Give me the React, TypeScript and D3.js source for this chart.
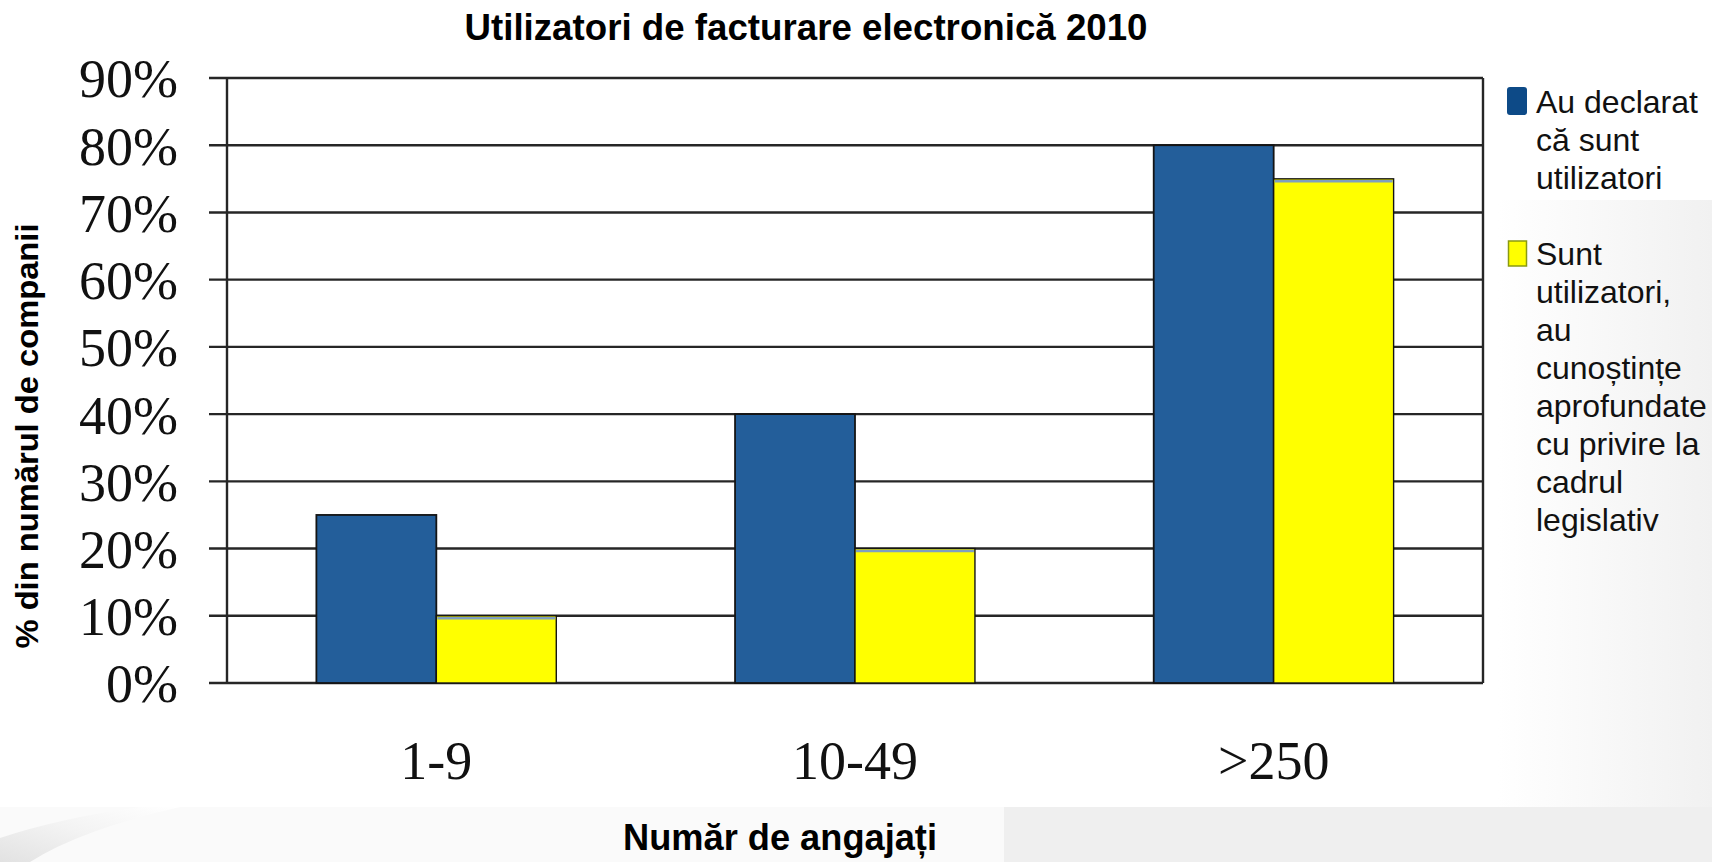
import * as d3 from 'd3'

// data
const categories = ['1-9', '10-49', '>250']
const declared = [25, 40, 80]
const knowledgeable = [10, 20, 75]
const yTicks = [0, 10, 20, 30, 40, 50, 60, 70, 80, 90]
const seriesNames = [
  ['Au declarat', 'că sunt', 'utilizatori'],
  ['Sunt', 'utilizatori,', 'au', 'cunoștințe', 'aprofundate', 'cu privire la', 'cadrul', 'legislativ']
]

const W = 1712
const H = 862
const BLUE = '#235e9a'
const YELLOW = '#ffff00'
const LINE = '#262626'

const plot = { left: 227, right: 1483, top: 78, bottom: 683 }

export default function App() {
  const x = d3.scaleBand<string>()
    .domain(categories)
    .range([plot.left, plot.right])
    .paddingInner(0.427)
    .paddingOuter(0.2135)
  const y = d3.scaleLinear().domain([0, 90]).range([plot.bottom, plot.top])
  const bw = x.bandwidth() / 2

  const sans = 'Arial, "Liberation Sans", sans-serif'
  const serif = '"Times New Roman", "Liberation Serif", serif'

  return (
    <div style={{ position: 'fixed', left: 0, top: 0, width: W, height: H, background: '#fff' }}>
      <svg width={W} height={H} style={{ display: 'block' }}>
        <defs>
          <linearGradient id="bgR" x1="0" y1="0" x2="1" y2="0">
            <stop offset="0" stopColor="#ffffff" />
            <stop offset="1" stopColor="#f1f1f1" />
          </linearGradient>
          <linearGradient id="swoosh" x1="0" y1="1" x2="1" y2="0">
            <stop offset="0" stopColor="#e2e2e2" />
            <stop offset="0.5" stopColor="#f3f3f3" />
            <stop offset="1" stopColor="#ffffff" />
          </linearGradient>
        </defs>

        {/* slide background behind the pasted chart */}
        <rect x={1498} y={200} width={W - 1498} height={H - 200} fill="url(#bgR)" />
        <rect x={1004} y={807} width={W - 1004} height={H - 807} fill="#efefef" />
        <rect x={0} y={807} width={1004} height={H - 807} fill="#fafafa" />
        <path d="M0,862 L0,838 Q60,818 140,807 L180,807 Q80,830 30,862 Z" fill="url(#swoosh)" />

        {/* title */}
        <text x={806} y={40} textAnchor="middle" fontFamily={sans} fontWeight="bold" fontSize={36}
          textLength={683} lengthAdjust="spacingAndGlyphs">
          Utilizatori de facturare electronică 2010
        </text>

        {/* grid lines and tick stubs */}
        {yTicks.map(t => (
          <line key={t} x1={209} x2={plot.right} y1={y(t)} y2={y(t)} stroke={LINE} strokeWidth={2.4} />
        ))}
        <line x1={plot.left} x2={plot.left} y1={plot.top} y2={plot.bottom} stroke={LINE} strokeWidth={2.4} />
        <line x1={plot.right} x2={plot.right} y1={plot.top} y2={plot.bottom} stroke={LINE} strokeWidth={2.4} />

        {/* y tick labels */}
        {yTicks.map(t => (
          <text key={t} x={178} y={y(t)} dy="0.36em" textAnchor="end" fontFamily={serif} fontSize={54} fill="#111">
            {t}%
          </text>
        ))}

        {/* bars */}
        {categories.map((c, i) => (
          <g key={c}>
            <rect x={x(c)!} y={y(declared[i])} width={bw} height={y(0) - y(declared[i])}
              fill={BLUE} stroke="#141414" strokeWidth={1.8} />
            <rect x={x(c)! + bw} y={y(knowledgeable[i])} width={bw} height={y(0) - y(knowledgeable[i])}
              fill={YELLOW} stroke="#141414" strokeWidth={1.4} />
            <line x1={x(c)! + bw + 1} x2={x(c)! + 2 * bw - 1} y1={y(knowledgeable[i]) + 2.5} y2={y(knowledgeable[i]) + 2.5}
              stroke="#7f9fbf" strokeWidth={2.5} />
          </g>
        ))}

        {/* x tick labels */}
        {categories.map(c => (
          <text key={c} x={x(c)! + bw} y={779} textAnchor="middle" fontFamily={serif} fontSize={54} fill="#111">
            {c}
          </text>
        ))}

        {/* axis titles */}
        <text x={780} y={850} textAnchor="middle" fontFamily={sans} fontWeight="bold" fontSize={36}
          textLength={314} lengthAdjust="spacingAndGlyphs">
          Număr de angajați
        </text>
        <text transform="translate(38,436) rotate(-90)" textAnchor="middle" fontFamily={sans} fontWeight="bold"
          fontSize={32} textLength={425} lengthAdjust="spacingAndGlyphs">
          % din numărul de companii
        </text>

        {/* legend */}
        <rect x={1507} y={87} width={20} height={28} rx={3} fill="#0d4a87" />
        <rect x={1508.5} y={241} width={18} height={25} fill={YELLOW} stroke="#8a9a10" strokeWidth={1.5} />
        {seriesNames.map((lines, s) => (
          <text key={s} fontFamily={sans} fontSize={32} fill="#111">
            {lines.map((l, j) => (
              <tspan key={j} x={1536} y={(s === 0 ? 113 : 265) + j * 38}>{l}</tspan>
            ))}
          </text>
        ))}
      </svg>
    </div>
  )
}
